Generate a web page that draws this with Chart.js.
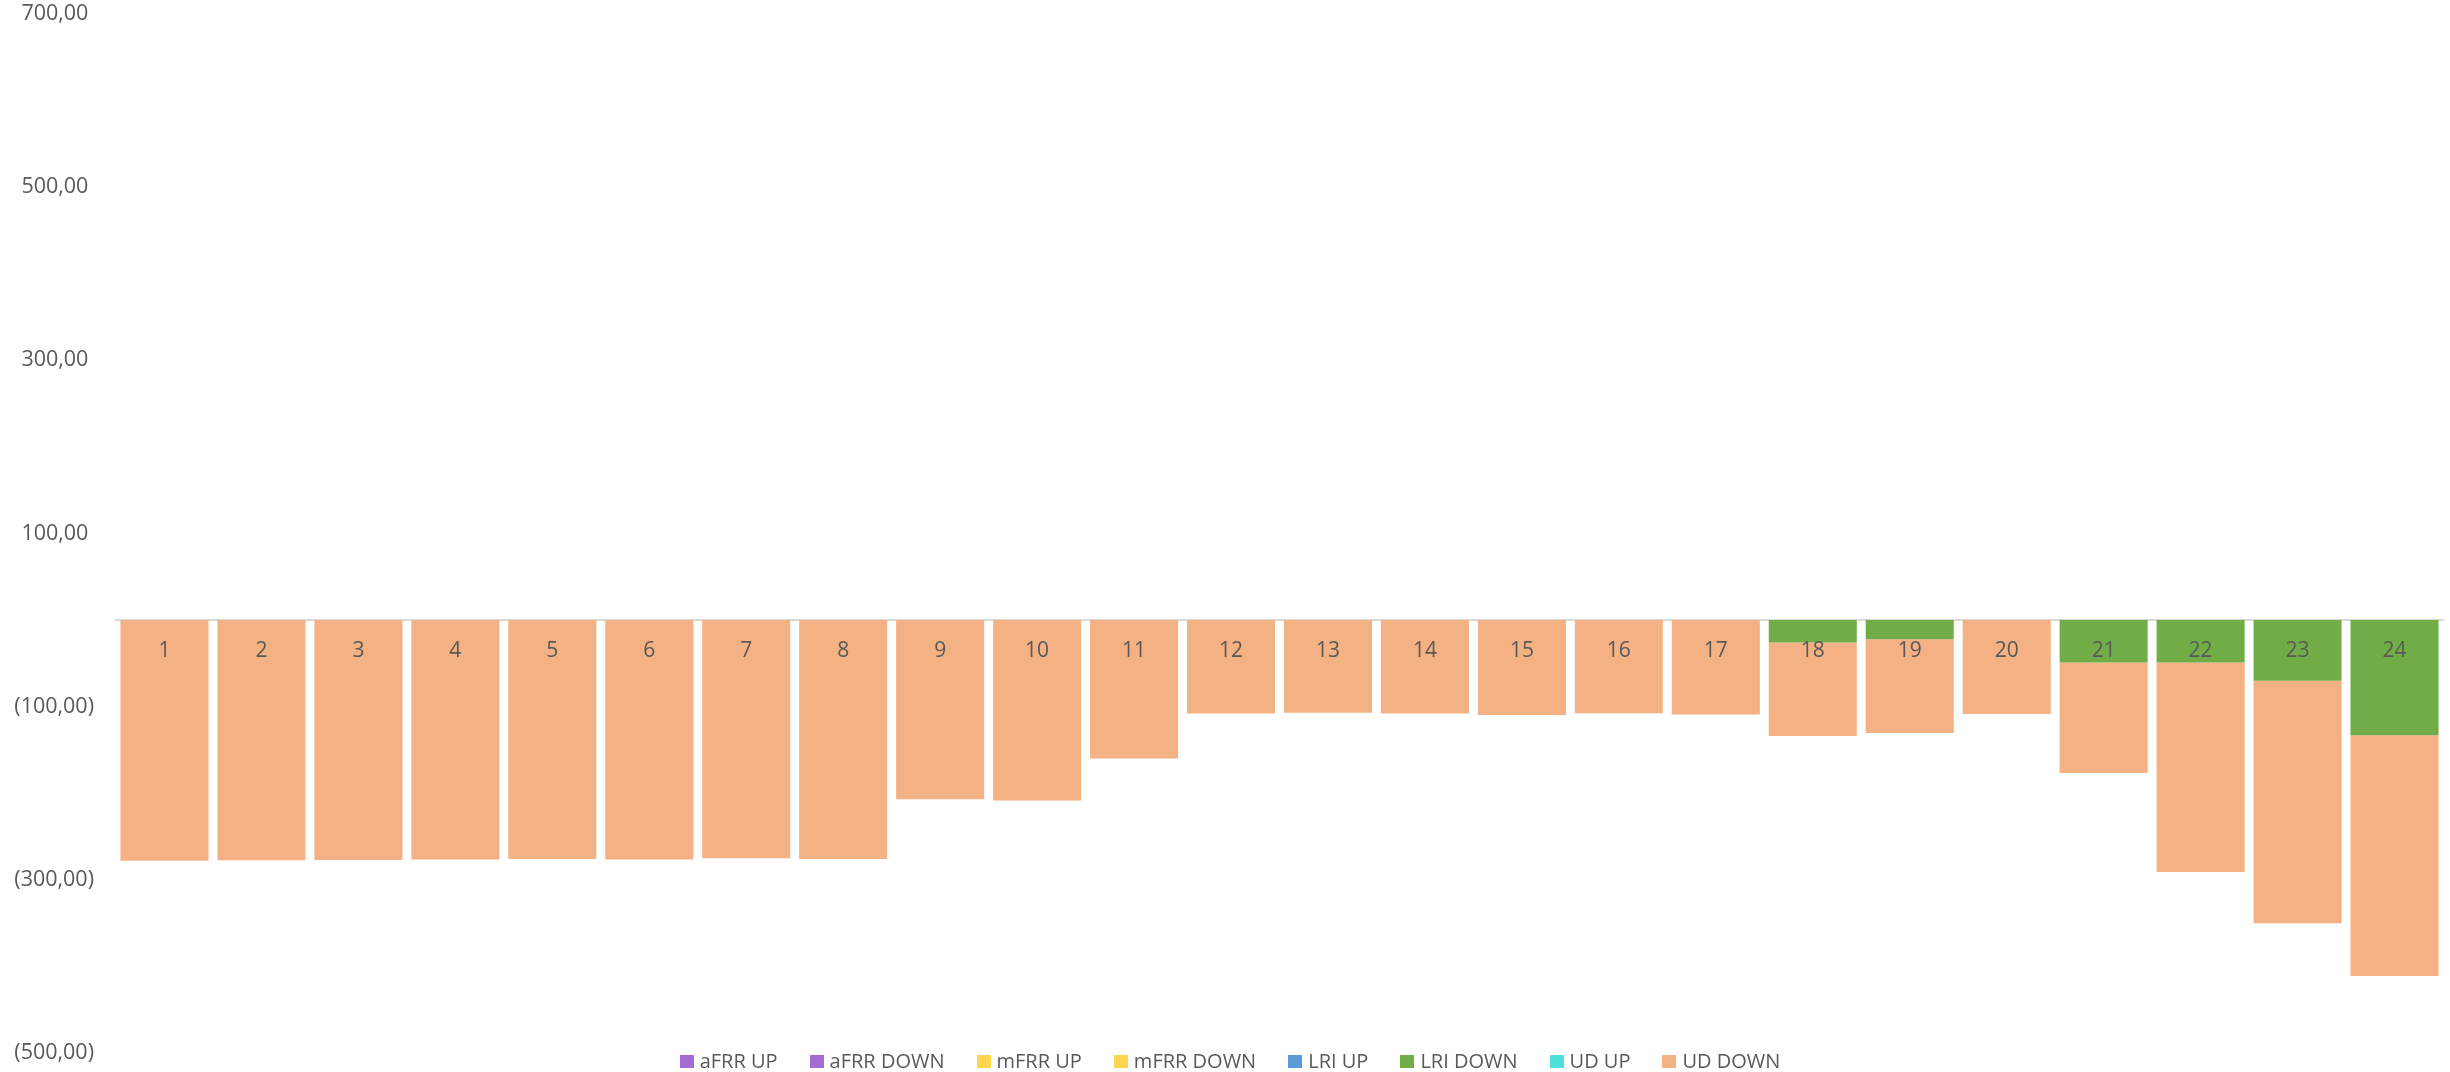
<!DOCTYPE html>
<html>
<head>
<meta charset="utf-8">
<script src="https://cdn.jsdelivr.net/npm/chart.js@4.4.1/dist/chart.umd.min.js"></script>
<style>
  body { margin: 0; background: #fff; }
  #wrap { position: relative; width: 2450px; height: 1072px; }
  #legend {
    position: absolute; left: 10px; right: 0; top: 1049px;
    display: flex; justify-content: center; gap: 32px;
    font-family: "Open Sans", sans-serif; font-size: 20px; color: #595959;
    line-height: 24px;
  }
  #legend span.item { display: flex; align-items: center; }
  #legend i { display: inline-block; width: 14px; height: 13px; margin-right: 6px; }
</style>
</head>
<body>
<div id="wrap">
  <canvas id="chart"></canvas>
  <div id="legend"></div>
</div>
<script>
const hours = ['1','2','3','4','5','6','7','8','9','10','11','12',
               '13','14','15','16','17','18','19','20','21','22','23','24'];

const seriesNames = ['aFRR UP', 'aFRR DOWN', 'mFRR UP', 'mFRR DOWN', 'LRI UP', 'LRI DOWN', 'UD UP', 'UD DOWN'];
const seriesColors = ['#a66bd3', '#a66bd3', '#ffd54f', '#ffd54f', '#5b9bd5', '#70ad47', '#4de0db', '#f4b183'];

const afrrUp   = [0,0,0,0,0,0,0,0,0,0,0,0,0,0,0,0,0,0,0,0,0,0,0,0];
const afrrDown = [0,0,0,0,0,0,0,0,0,0,0,0,0,0,0,0,0,0,0,0,0,0,0,0];
const mfrrUp   = [0,0,0,0,0,0,0,0,0,0,0,0,0,0,0,0,0,0,0,0,0,0,0,0];
const mfrrDown = [0,0,0,0,0,0,0,0,0,0,0,0,0,0,0,0,0,0,0,0,0,0,0,0];
const lriUp    = [0,0,0,0,0,0,0,0,0,0,0,0,0,0,0,0,0,0,0,0,0,0,0,0];
const lriDown  = [0,0,0,0,0,0,0,0,0,0,0,0,0,0,0,0,0,-26,-22,0,-49,-49,-70,-133];
const udUp     = [0,0,0,0,0,0,0,0,0,0,0,0,0,0,0,0,0,0,0,0,0,0,0,0];
const udDown   = [-278,-277.5,-277,-276.5,-276,-276.5,-275,-276,-207,-208.5,-160,-108,
                  -107,-108,-109.5,-107.5,-109,-108,-108.5,-108.5,-127.5,-242,-280,-278];

const yTicks = [-500, -300, -100, 100, 300, 500, 700];

const seriesData = [afrrUp, afrrDown, mfrrUp, mfrrDown, lriUp, lriDown, udUp, udDown];

const textColor = '#595959';

// excel style number format: 1.234,56 and (neg) in brackets
function fmt(v) {
  const s = Math.abs(v).toFixed(2).replace('.', ',');
  return v < 0 ? '(' + s + ')' : s + ' ';
}

const ctx = document.getElementById('chart').getContext('2d');
const chart = new Chart(ctx, {
  type: 'bar',
  data: {
    labels: hours,
    datasets: seriesNames.map((name, i) => ({
      label: name,
      data: seriesData[i],
      backgroundColor: seriesColors[i],
      borderWidth: 0,
      categoryPercentage: 1,
      barPercentage: 0.908
    }))
  },
  options: {
    responsive: true,
    maintainAspectRatio: false,
    animation: false,
    layout: { padding: { top: 14, bottom: 19, left: 0, right: 7 } },
    plugins: {
      legend: { display: false },
      tooltip: { enabled: false }
    },
    scales: {
      x: {
        stacked: true,
        position: { y: 0 },
        grid: { display: false, drawTicks: false },
        border: { display: true, color: '#d9d9d9', width: 2 },
        ticks: {
          z: 1, // labels sit on top of the bars
          color: textColor,
          padding: 18,
          font: { family: 'Open Sans', size: 21 }
        }
      },
      y: {
        stacked: true,
        min: -500,
        max: 700,
        afterBuildTicks: (scale) => {
          scale.ticks = yTicks.map(v => ({ value: v }));
        },
        afterFit: (scale) => {
          scale.width = 116;
          scale.paddingTop = 12;
          scale.paddingBottom = 12;
        },
        grid: { display: false, drawTicks: false },
        border: { display: false },
        ticks: {
          color: textColor,
          padding: 22,
          font: { family: 'Open Sans', size: 21.5 },
          callback: (value) => fmt(value)
        }
      }
    }
  }
});

// legend below the plot, same look as the excel one
const legendEl = document.getElementById('legend');
seriesNames.forEach((name, i) => {
  const item = document.createElement('span');
  item.className = 'item';
  const box = document.createElement('i');
  box.style.background = seriesColors[i];
  item.appendChild(box);
  item.appendChild(document.createTextNode(name));
  legendEl.appendChild(item);
});
</script>
</body>
</html>
